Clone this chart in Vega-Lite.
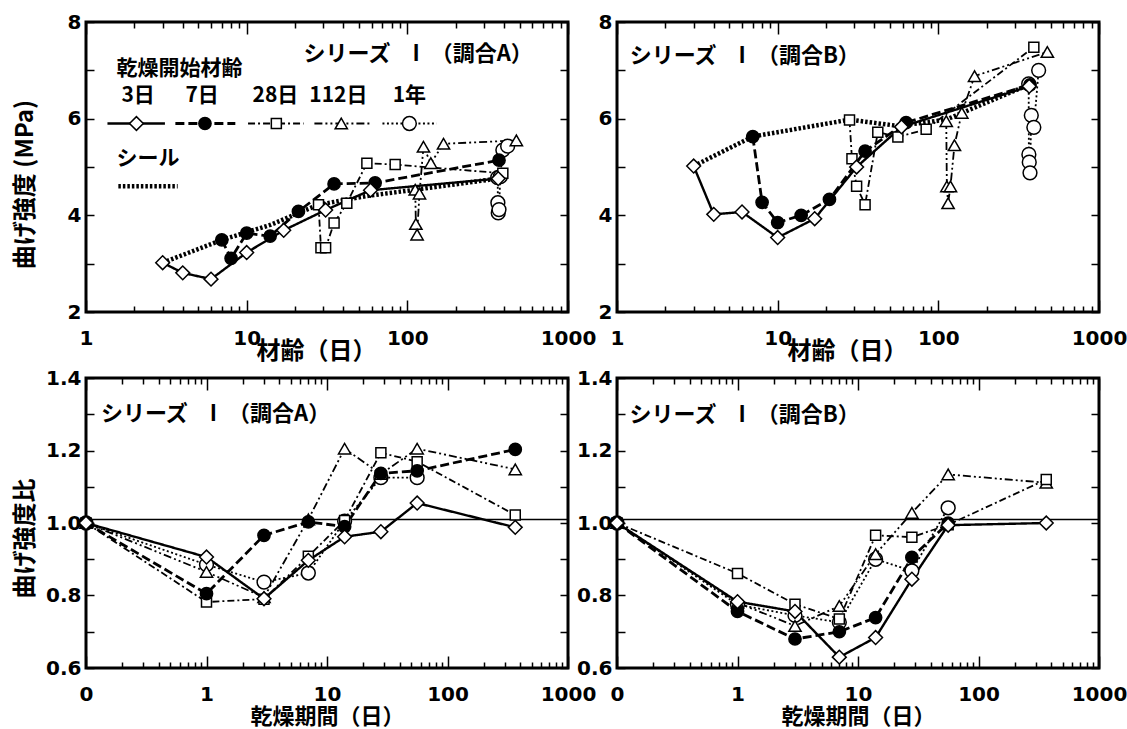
{
"$schema": "https://vega.github.io/schema/vega-lite/v6.json",
"background": "white",
"padding": {"left": 11, "top": 10, "right": 2, "bottom": 2},
"columns": 2,
"spacing": {"row": 66, "column": 49},
"bounds": "flush",
"config": {
  "view": {"stroke": "black", "strokeWidth": 3},
  "axis": {"grid": false, "domain": false, "ticks": true, "tickColor": "black", "tickOpacity": 1, "tickWidth": 1.5, "labelFont": "DejaVu Sans", "labelFontWeight": "bold", "labelFontSize": 20, "labelColor": "black", "titleFont": "Noto Sans CJK JP", "titleFontWeight": "bold", "titleFontSize": 22, "titleColor": "black", "labelFlush": false, "labelOverlap": false, "labelBound": false},
  "text": {"font": "Noto Sans CJK JP", "fontWeight": "bold", "color": "black"}
},
"datasets": {
  "tlDry": [
    {"series":"1年","age":365,"strength":4.78},{"series":"1年","age":366,"strength":4.26},{"series":"1年","age":368,"strength":4.05},{"series":"1年","age":372,"strength":4.12},{"series":"1年","age":379,"strength":4.8},{"series":"1年","age":393,"strength":5.35},{"series":"1年","age":421,"strength":5.43},
    {"series":"112日","age":112,"strength":4.53},{"series":"112日","age":113,"strength":3.82},{"series":"112日","age":115,"strength":3.6},{"series":"112日","age":119,"strength":4.45},{"series":"112日","age":126,"strength":5.42},{"series":"112日","age":140,"strength":5.08},{"series":"112日","age":168,"strength":5.48},{"series":"112日","age":477,"strength":5.55},
    {"series":"28日","age":28,"strength":4.22},{"series":"28日","age":29,"strength":3.33},{"series":"28日","age":31,"strength":3.33},{"series":"28日","age":35,"strength":3.84},{"series":"28日","age":42,"strength":4.25},{"series":"28日","age":56,"strength":5.08},{"series":"28日","age":84,"strength":5.05},{"series":"28日","age":393,"strength":4.87},
    {"series":"7日","age":7,"strength":3.49},{"series":"7日","age":8,"strength":3.11},{"series":"7日","age":10,"strength":3.63},{"series":"7日","age":14,"strength":3.57},{"series":"7日","age":21,"strength":4.08},{"series":"7日","age":35,"strength":4.65},{"series":"7日","age":63,"strength":4.67},{"series":"7日","age":372,"strength":5.14},
    {"series":"3日","age":3,"strength":3.02},{"series":"3日","age":4,"strength":2.81},{"series":"3日","age":6,"strength":2.68},{"series":"3日","age":10,"strength":3.23},{"series":"3日","age":17,"strength":3.69},{"series":"3日","age":31,"strength":4.11},{"series":"3日","age":59,"strength":4.52},{"series":"3日","age":368,"strength":4.76}
  ],
  "tlSeal": [{"age":3,"strength":3.02},{"age":7,"strength":3.49},{"age":14,"strength":3.8},{"age":28,"strength":4.22},{"age":56,"strength":4.4},{"age":112,"strength":4.53},{"age":365,"strength":4.76}],
  "tlTitle": [{"text":"シリーズ　I　（調合A）","age":22.6,"strength":7.33}],
  "tlNote": [{"text":"乾燥開始材齢","age":1.55,"strength":7.02},{"text":"シール","age":1.55,"strength":5.16}],
  "tlLegLabel": [{"text":"3日","age":2.11,"strength":6.47},{"text":"7日","age":5.28,"strength":6.47},{"text":"28日","age":15.1,"strength":6.47},{"text":"112日","age":37.2,"strength":6.47},{"text":"1年","age":103,"strength":6.47}],
  "tlLegLine": [
    {"series":"3日","age":1.36,"strength":5.9},{"series":"3日","age":3.1,"strength":5.9},
    {"series":"7日","age":3.6,"strength":5.9},{"series":"7日","age":8.5,"strength":5.9},
    {"series":"28日","age":10.2,"strength":5.9},{"series":"28日","age":22.6,"strength":5.9},
    {"series":"112日","age":26.4,"strength":5.9},{"series":"112日","age":60,"strength":5.9},
    {"series":"1年","age":70,"strength":5.9},{"series":"1年","age":152,"strength":5.9}
  ],
  "tlLegMark": [{"series":"3日","age":2.06,"strength":5.9},{"series":"7日","age":5.5,"strength":5.9},{"series":"28日","age":15.3,"strength":5.9},{"series":"112日","age":38.8,"strength":5.9},{"series":"1年","age":103,"strength":5.9}],
  "tlLegSeal": [{"age":1.59,"strength":4.6},{"age":3.72,"strength":4.6}],
  "trDry": [
    {"series":"1年","age":365,"strength":6.72},{"series":"1年","age":366,"strength":5.26},{"series":"1年","age":368,"strength":5.1},{"series":"1年","age":372,"strength":4.88},{"series":"1年","age":379,"strength":6.07},{"series":"1年","age":393,"strength":5.82},{"series":"1年","age":421,"strength":7.0},
    {"series":"112日","age":112,"strength":5.95},{"series":"112日","age":113,"strength":4.6},{"series":"112日","age":115,"strength":4.25},{"series":"112日","age":119,"strength":4.6},{"series":"112日","age":126,"strength":5.45},{"series":"112日","age":140,"strength":6.12},{"series":"112日","age":168,"strength":6.88},{"series":"112日","age":477,"strength":7.38},
    {"series":"28日","age":28,"strength":5.97},{"series":"28日","age":29,"strength":5.17},{"series":"28日","age":31,"strength":4.6},{"series":"28日","age":35,"strength":4.22},{"series":"28日","age":42,"strength":5.72},{"series":"28日","age":56,"strength":5.62},{"series":"28日","age":84,"strength":5.78},{"series":"28日","age":393,"strength":7.48},
    {"series":"7日","age":7,"strength":5.63},{"series":"7日","age":8,"strength":4.27},{"series":"7日","age":10,"strength":3.85},{"series":"7日","age":14,"strength":4.0},{"series":"7日","age":21,"strength":4.33},{"series":"7日","age":35,"strength":5.33},{"series":"7日","age":63,"strength":5.92},{"series":"7日","age":372,"strength":6.7},
    {"series":"3日","age":3,"strength":5.02},{"series":"3日","age":4,"strength":4.02},{"series":"3日","age":6,"strength":4.07},{"series":"3日","age":10,"strength":3.54},{"series":"3日","age":17,"strength":3.93},{"series":"3日","age":31,"strength":5.0},{"series":"3日","age":59,"strength":5.83},{"series":"3日","age":368,"strength":6.67}
  ],
  "trSeal": [{"age":3,"strength":5.02},{"age":7,"strength":5.63},{"age":28,"strength":5.98},{"age":56,"strength":5.85},{"age":112,"strength":5.98},{"age":365,"strength":6.7}],
  "trTitle": [{"text":"シリーズ　I　（調合B）","age":1.2,"strength":7.3}],
  "blDry": [
    {"series":"1年","period":0.1,"ratio":1.0},{"series":"1年","period":1,"ratio":0.885},{"series":"1年","period":3,"ratio":0.837},{"series":"1年","period":7,"ratio":0.862},{"series":"1年","period":14,"ratio":1.005},{"series":"1年","period":28,"ratio":1.125},{"series":"1年","period":56,"ratio":1.125},
    {"series":"112日","period":0.1,"ratio":1.0},{"series":"112日","period":1,"ratio":0.865},{"series":"112日","period":3,"ratio":0.795},{"series":"112日","period":7,"ratio":1.01},{"series":"112日","period":14,"ratio":1.205},{"series":"112日","period":28,"ratio":1.135},{"series":"112日","period":56,"ratio":1.205},{"series":"112日","period":365,"ratio":1.148},
    {"series":"28日","period":0.1,"ratio":1.0},{"series":"28日","period":1,"ratio":0.782},{"series":"28日","period":3,"ratio":0.79},{"series":"28日","period":7,"ratio":0.908},{"series":"28日","period":14,"ratio":1.007},{"series":"28日","period":28,"ratio":1.194},{"series":"28日","period":56,"ratio":1.169},{"series":"28日","period":365,"ratio":1.022},
    {"series":"7日","period":0.1,"ratio":1.0},{"series":"7日","period":1,"ratio":0.805},{"series":"7日","period":3,"ratio":0.966},{"series":"7日","period":7,"ratio":1.003},{"series":"7日","period":14,"ratio":0.99},{"series":"7日","period":28,"ratio":1.137},{"series":"7日","period":56,"ratio":1.144},{"series":"7日","period":365,"ratio":1.203},
    {"series":"3日","period":0.1,"ratio":1.0},{"series":"3日","period":1,"ratio":0.906},{"series":"3日","period":3,"ratio":0.791},{"series":"3日","period":7,"ratio":0.897},{"series":"3日","period":14,"ratio":0.962},{"series":"3日","period":28,"ratio":0.976},{"series":"3日","period":56,"ratio":1.055},{"series":"3日","period":365,"ratio":0.988}
  ],
  "brDry": [
    {"series":"1年","period":0.1,"ratio":1.0},{"series":"1年","period":1,"ratio":0.775},{"series":"1年","period":3,"ratio":0.745},{"series":"1年","period":7,"ratio":0.726},{"series":"1年","period":14,"ratio":0.9},{"series":"1年","period":28,"ratio":0.868},{"series":"1年","period":56,"ratio":1.042},
    {"series":"112日","period":0.1,"ratio":1.0},{"series":"112日","period":1,"ratio":0.78},{"series":"112日","period":3,"ratio":0.716},{"series":"112日","period":7,"ratio":0.771},{"series":"112日","period":14,"ratio":0.914},{"series":"112日","period":28,"ratio":1.028},{"series":"112日","period":56,"ratio":1.134},{"series":"112日","period":365,"ratio":1.111},
    {"series":"28日","period":0.1,"ratio":1.0},{"series":"28日","period":1,"ratio":0.861},{"series":"28日","period":3,"ratio":0.776},{"series":"28日","period":7,"ratio":0.735},{"series":"28日","period":14,"ratio":0.966},{"series":"28日","period":28,"ratio":0.961},{"series":"28日","period":56,"ratio":0.995},{"series":"28日","period":365,"ratio":1.12},
    {"series":"7日","period":0.1,"ratio":1.0},{"series":"7日","period":1,"ratio":0.756},{"series":"7日","period":3,"ratio":0.68},{"series":"7日","period":7,"ratio":0.7},{"series":"7日","period":14,"ratio":0.739},{"series":"7日","period":28,"ratio":0.905},{"series":"7日","period":56,"ratio":1.0},
    {"series":"3日","period":0.1,"ratio":1.0},{"series":"3日","period":1,"ratio":0.783},{"series":"3日","period":3,"ratio":0.756},{"series":"3日","period":7,"ratio":0.63},{"series":"3日","period":14,"ratio":0.684},{"series":"3日","period":28,"ratio":0.845},{"series":"3日","period":56,"ratio":0.994},{"series":"3日","period":365,"ratio":1.0}
  ],
  "ref": [{"ratio":1.01}],
  "blTitle": [{"text":"シリーズ　I　（調合A）","period":0.133,"ratio":1.302}],
  "brTitle": [{"text":"シリーズ　I　（調合B）","period":0.127,"ratio":1.299}]
},
"concat": [
{
  "width": 482, "height": 290,
  "resolve": {"axis": {"x": "independent", "y": "independent"}},
  "layer": [
    {"data": {"name": "tlSeal"}, "mark": {"type": "line", "strokeDash": [2.5, 2], "strokeWidth": 4.5, "color": "black"},
     "encoding": {
       "x": {"field": "age", "type": "quantitative", "scale": {"type": "log", "domain": [1, 1000], "nice": false}, "axis": {"orient": "bottom", "offset": -6, "tickSize": 6, "values": [2,3,4,5,6,7,8,9,20,30,40,50,60,70,80,90,200,300,400,500,600,700,800,900], "labels": false, "title": null}},
       "y": {"field": "strength", "type": "quantitative", "scale": {"domain": [2, 8], "nice": false, "zero": false}, "axis": null}}},
    {"data": {"name": "tlDry"}, "mark": {"type": "line", "color": "black"},
     "encoding": {
       "x": {"field": "age", "type": "quantitative", "scale": {"type": "log", "domain": [1, 1000], "nice": false}, "axis": {"orient": "bottom", "offset": -12, "tickSize": 12, "values": [1, 10, 100, 1000], "labelPadding": 16, "labelExpr": "format(datum.value, 'd')", "title": "材齢（日）", "titleFontSize": 24, "titleX": 230, "titleY": 51, "titleBaseline": "middle"}},
       "y": {"field": "strength", "type": "quantitative", "scale": {"domain": [2, 8], "nice": false, "zero": false}, "axis": {"orient": "left", "offset": -8, "tickSize": 8, "values": [2,3,4,5,6,7,8], "labelPadding": 5, "labelExpr": "datum.value % 2 == 0 ? format(datum.value, 'd') : ''", "title": "曲げ強度 (MPa)", "titleFontSize": 24, "titleX": -69, "titleY": 162, "titleBaseline": "middle"}},
       "strokeDash": {"field": "series", "type": "nominal", "scale": {"domain": ["3日","7日","28日","112日","1年"], "range": [[1,0],[9,4],[7,3,2,3],[8,3,2,3,2,3],[2,2.5]]}, "legend": null},
       "strokeWidth": {"condition": [{"test": "datum.series == '7日'", "value": 2.8}, {"test": "datum.series == '3日'", "value": 2.4}], "value": 1.8}}},
    {"data": {"name": "tlDry"}, "mark": {"type": "point", "stroke": "black", "strokeWidth": 1.5, "opacity": 1},
     "encoding": {
       "x": {"field": "age", "type": "quantitative", "scale": {"type": "log", "domain": [1, 1000], "nice": false}, "axis": {"orient": "top", "offset": -12, "tickSize": 12, "values": [1, 10, 100, 1000], "labels": false, "title": null}},
       "y": {"field": "strength", "type": "quantitative", "scale": {"domain": [2, 8], "nice": false, "zero": false}, "axis": {"orient": "right", "offset": -8, "tickSize": 8, "values": [2,3,4,5,6,7,8], "labels": false, "title": null}},
       "shape": {"field": "series", "type": "nominal", "scale": {"domain": ["3日","7日","28日","112日","1年"], "range": ["diamond","circle","square","triangle-up","circle"]}, "legend": null},
       "fill": {"condition": {"test": "datum.series == '7日'", "value": "black"}, "value": "white"},
       "size": {"condition": [{"test": "datum.series == '3日' || datum.series == '1年'", "value": 190}, {"test": "datum.series == '28日'", "value": 100}], "value": 150}}},
    {"data": {"name": "tlTitle"}, "mark": {"type": "text", "align": "left", "baseline": "middle", "fontSize": 22},
     "encoding": {
       "x": {"field": "age", "type": "quantitative", "scale": {"type": "log", "domain": [1, 1000], "nice": false}, "axis": {"orient": "top", "offset": -6, "tickSize": 6, "values": [2,3,4,5,6,7,8,9,20,30,40,50,60,70,80,90,200,300,400,500,600,700,800,900], "labels": false, "title": null}},
       "y": {"field": "strength", "type": "quantitative", "scale": {"domain": [2, 8], "nice": false, "zero": false}, "axis": null},
       "text": {"field": "text"}}},
    {"data": {"name": "tlNote"}, "mark": {"type": "text", "align": "left", "baseline": "middle", "fontSize": 21},
     "encoding": {
       "x": {"field": "age", "type": "quantitative", "scale": {"type": "log", "domain": [1, 1000], "nice": false}, "axis": null},
       "y": {"field": "strength", "type": "quantitative", "scale": {"domain": [2, 8], "nice": false, "zero": false}, "axis": null},
       "text": {"field": "text"}}},
    {"data": {"name": "tlLegLabel"}, "mark": {"type": "text", "align": "center", "baseline": "middle", "fontSize": 21},
     "encoding": {
       "x": {"field": "age", "type": "quantitative", "scale": {"type": "log", "domain": [1, 1000], "nice": false}, "axis": null},
       "y": {"field": "strength", "type": "quantitative", "scale": {"domain": [2, 8], "nice": false, "zero": false}, "axis": null},
       "text": {"field": "text"}}},
    {"data": {"name": "tlLegLine"}, "mark": {"type": "line", "color": "black"},
     "encoding": {
       "x": {"field": "age", "type": "quantitative", "scale": {"type": "log", "domain": [1, 1000], "nice": false}, "axis": null},
       "y": {"field": "strength", "type": "quantitative", "scale": {"domain": [2, 8], "nice": false, "zero": false}, "axis": null},
       "strokeDash": {"field": "series", "type": "nominal", "scale": {"domain": ["3日","7日","28日","112日","1年"], "range": [[1,0],[9,4],[7,3,2,3],[8,3,2,3,2,3],[2,2.5]]}, "legend": null},
       "strokeWidth": {"condition": [{"test": "datum.series == '7日'", "value": 2.8}, {"test": "datum.series == '3日'", "value": 2.4}], "value": 1.8}}},
    {"data": {"name": "tlLegSeal"}, "mark": {"type": "line", "strokeDash": [2.5, 2], "strokeWidth": 4.5, "color": "black"},
     "encoding": {
       "x": {"field": "age", "type": "quantitative", "scale": {"type": "log", "domain": [1, 1000], "nice": false}, "axis": null},
       "y": {"field": "strength", "type": "quantitative", "scale": {"domain": [2, 8], "nice": false, "zero": false}, "axis": null}}},
    {"data": {"name": "tlLegMark"}, "mark": {"type": "point", "stroke": "black", "strokeWidth": 1.5, "opacity": 1},
     "encoding": {
       "x": {"field": "age", "type": "quantitative", "scale": {"type": "log", "domain": [1, 1000], "nice": false}, "axis": null},
       "y": {"field": "strength", "type": "quantitative", "scale": {"domain": [2, 8], "nice": false, "zero": false}, "axis": null},
       "shape": {"field": "series", "type": "nominal", "scale": {"domain": ["3日","7日","28日","112日","1年"], "range": ["diamond","circle","square","triangle-up","circle"]}, "legend": null},
       "fill": {"condition": {"test": "datum.series == '7日'", "value": "black"}, "value": "white"},
       "size": {"condition": [{"test": "datum.series == '3日' || datum.series == '1年'", "value": 190}, {"test": "datum.series == '28日'", "value": 100}], "value": 150}}}
  ]
},
{
  "width": 482, "height": 290,
  "resolve": {"axis": {"x": "independent", "y": "independent"}},
  "layer": [
    {"data": {"name": "trSeal"}, "mark": {"type": "line", "strokeDash": [2.5, 2], "strokeWidth": 4.5, "color": "black"},
     "encoding": {
       "x": {"field": "age", "type": "quantitative", "scale": {"type": "log", "domain": [1, 1000], "nice": false}, "axis": {"orient": "bottom", "offset": -6, "tickSize": 6, "values": [2,3,4,5,6,7,8,9,20,30,40,50,60,70,80,90,200,300,400,500,600,700,800,900], "labels": false, "title": null}},
       "y": {"field": "strength", "type": "quantitative", "scale": {"domain": [2, 8], "nice": false, "zero": false}, "axis": null}}},
    {"data": {"name": "trDry"}, "mark": {"type": "line", "color": "black"},
     "encoding": {
       "x": {"field": "age", "type": "quantitative", "scale": {"type": "log", "domain": [1, 1000], "nice": false}, "axis": {"orient": "bottom", "offset": -12, "tickSize": 12, "values": [1, 10, 100, 1000], "labelPadding": 16, "labelExpr": "format(datum.value, 'd')", "title": "材齢（日）", "titleFontSize": 24, "titleX": 230, "titleY": 51, "titleBaseline": "middle"}},
       "y": {"field": "strength", "type": "quantitative", "scale": {"domain": [2, 8], "nice": false, "zero": false}, "axis": {"orient": "left", "offset": -8, "tickSize": 8, "values": [2,3,4,5,6,7,8], "labelPadding": 5, "labelExpr": "datum.value % 2 == 0 ? format(datum.value, 'd') : ''", "title": null}},
       "strokeDash": {"field": "series", "type": "nominal", "scale": {"domain": ["3日","7日","28日","112日","1年"], "range": [[1,0],[9,4],[7,3,2,3],[8,3,2,3,2,3],[2,2.5]]}, "legend": null},
       "strokeWidth": {"condition": [{"test": "datum.series == '7日'", "value": 2.8}, {"test": "datum.series == '3日'", "value": 2.4}], "value": 1.8}}},
    {"data": {"name": "trDry"}, "mark": {"type": "point", "stroke": "black", "strokeWidth": 1.5, "opacity": 1},
     "encoding": {
       "x": {"field": "age", "type": "quantitative", "scale": {"type": "log", "domain": [1, 1000], "nice": false}, "axis": {"orient": "top", "offset": -12, "tickSize": 12, "values": [1, 10, 100, 1000], "labels": false, "title": null}},
       "y": {"field": "strength", "type": "quantitative", "scale": {"domain": [2, 8], "nice": false, "zero": false}, "axis": {"orient": "right", "offset": -8, "tickSize": 8, "values": [2,3,4,5,6,7,8], "labels": false, "title": null}},
       "shape": {"field": "series", "type": "nominal", "scale": {"domain": ["3日","7日","28日","112日","1年"], "range": ["diamond","circle","square","triangle-up","circle"]}, "legend": null},
       "fill": {"condition": {"test": "datum.series == '7日'", "value": "black"}, "value": "white"},
       "size": {"condition": [{"test": "datum.series == '3日' || datum.series == '1年'", "value": 190}, {"test": "datum.series == '28日'", "value": 100}], "value": 150}}},
    {"data": {"name": "trTitle"}, "mark": {"type": "text", "align": "left", "baseline": "middle", "fontSize": 22},
     "encoding": {
       "x": {"field": "age", "type": "quantitative", "scale": {"type": "log", "domain": [1, 1000], "nice": false}, "axis": {"orient": "top", "offset": -6, "tickSize": 6, "values": [2,3,4,5,6,7,8,9,20,30,40,50,60,70,80,90,200,300,400,500,600,700,800,900], "labels": false, "title": null}},
       "y": {"field": "strength", "type": "quantitative", "scale": {"domain": [2, 8], "nice": false, "zero": false}, "axis": null},
       "text": {"field": "text"}}}
  ]
},
{
  "width": 482, "height": 290,
  "resolve": {"axis": {"x": "independent", "y": "independent"}},
  "layer": [
    {"data": {"name": "ref"}, "mark": {"type": "rule", "color": "black", "strokeWidth": 1.5},
     "encoding": {
       "x": {"datum": 0.1, "type": "quantitative", "scale": {"type": "log", "domain": [0.1, 1000], "nice": false}, "axis": {"orient": "top", "offset": -6, "tickSize": 6, "values": [0.2,0.3,0.4,0.5,0.6,0.7,0.8,0.9,2,3,4,5,6,7,8,9,20,30,40,50,60,70,80,90,200,300,400,500,600,700,800,900], "labels": false, "title": null}},
       "x2": {"datum": 1000},
       "y": {"field": "ratio", "type": "quantitative", "scale": {"domain": [0.6, 1.4], "nice": false, "zero": false}, "axis": null}}},
    {"data": {"name": "blDry"}, "mark": {"type": "line", "color": "black"},
     "encoding": {
       "x": {"field": "period", "type": "quantitative", "scale": {"type": "log", "domain": [0.1, 1000], "nice": false}, "axis": {"orient": "bottom", "offset": -12, "tickSize": 12, "values": [0.1, 1, 10, 100, 1000], "labelPadding": 16, "labelExpr": "datum.value < 0.5 ? '0' : format(datum.value, 'd')", "title": "乾燥期間（日）", "titleY": 60, "titleBaseline": "middle"}},
       "y": {"field": "ratio", "type": "quantitative", "scale": {"domain": [0.6, 1.4], "nice": false, "zero": false}, "axis": {"orient": "left", "offset": -8, "tickSize": 8, "values": [0.6,0.7,0.8,0.9,1.0,1.1,1.2,1.3,1.4], "labelPadding": 5, "labelExpr": "round(datum.value * 10) % 2 == 0 ? format(datum.value, '.1f') : ''", "title": "曲げ強度比", "titleFontSize": 24, "titleX": -69, "titleY": 160, "titleBaseline": "middle"}},
       "strokeDash": {"field": "series", "type": "nominal", "scale": {"domain": ["3日","7日","28日","112日","1年"], "range": [[1,0],[9,4],[7,3,2,3],[8,3,2,3,2,3],[2,2.5]]}, "legend": null},
       "strokeWidth": {"condition": [{"test": "datum.series == '7日'", "value": 2.8}, {"test": "datum.series == '3日'", "value": 2.4}], "value": 1.8}}},
    {"data": {"name": "blDry"}, "mark": {"type": "point", "stroke": "black", "strokeWidth": 1.5, "opacity": 1},
     "encoding": {
       "x": {"field": "period", "type": "quantitative", "scale": {"type": "log", "domain": [0.1, 1000], "nice": false}, "axis": {"orient": "top", "offset": -12, "tickSize": 12, "values": [0.1, 1, 10, 100, 1000], "labels": false, "title": null}},
       "y": {"field": "ratio", "type": "quantitative", "scale": {"domain": [0.6, 1.4], "nice": false, "zero": false}, "axis": {"orient": "right", "offset": -8, "tickSize": 8, "values": [0.6,0.7,0.8,0.9,1.0,1.1,1.2,1.3,1.4], "labels": false, "title": null}},
       "shape": {"field": "series", "type": "nominal", "scale": {"domain": ["3日","7日","28日","112日","1年"], "range": ["diamond","circle","square","triangle-up","circle"]}, "legend": null},
       "fill": {"condition": {"test": "datum.series == '7日'", "value": "black"}, "value": "white"},
       "size": {"condition": [{"test": "datum.series == '3日' || datum.series == '1年'", "value": 190}, {"test": "datum.series == '28日'", "value": 100}], "value": 150}}},
    {"data": {"name": "blTitle"}, "mark": {"type": "text", "align": "left", "baseline": "middle", "fontSize": 22},
     "encoding": {
       "x": {"field": "period", "type": "quantitative", "scale": {"type": "log", "domain": [0.1, 1000], "nice": false}, "axis": {"orient": "bottom", "offset": -6, "tickSize": 6, "values": [0.2,0.3,0.4,0.5,0.6,0.7,0.8,0.9,2,3,4,5,6,7,8,9,20,30,40,50,60,70,80,90,200,300,400,500,600,700,800,900], "labels": false, "title": null}},
       "y": {"field": "ratio", "type": "quantitative", "scale": {"domain": [0.6, 1.4], "nice": false, "zero": false}, "axis": null},
       "text": {"field": "text"}}}
  ]
},
{
  "width": 482, "height": 290,
  "resolve": {"axis": {"x": "independent", "y": "independent"}},
  "layer": [
    {"data": {"name": "ref"}, "mark": {"type": "rule", "color": "black", "strokeWidth": 1.5},
     "encoding": {
       "x": {"datum": 0.1, "type": "quantitative", "scale": {"type": "log", "domain": [0.1, 1000], "nice": false}, "axis": {"orient": "top", "offset": -6, "tickSize": 6, "values": [0.2,0.3,0.4,0.5,0.6,0.7,0.8,0.9,2,3,4,5,6,7,8,9,20,30,40,50,60,70,80,90,200,300,400,500,600,700,800,900], "labels": false, "title": null}},
       "x2": {"datum": 1000},
       "y": {"field": "ratio", "type": "quantitative", "scale": {"domain": [0.6, 1.4], "nice": false, "zero": false}, "axis": null}}},
    {"data": {"name": "brDry"}, "mark": {"type": "line", "color": "black"},
     "encoding": {
       "x": {"field": "period", "type": "quantitative", "scale": {"type": "log", "domain": [0.1, 1000], "nice": false}, "axis": {"orient": "bottom", "offset": -12, "tickSize": 12, "values": [0.1, 1, 10, 100, 1000], "labelPadding": 16, "labelExpr": "datum.value < 0.5 ? '0' : format(datum.value, 'd')", "title": "乾燥期間（日）", "titleY": 60, "titleBaseline": "middle"}},
       "y": {"field": "ratio", "type": "quantitative", "scale": {"domain": [0.6, 1.4], "nice": false, "zero": false}, "axis": {"orient": "left", "offset": -8, "tickSize": 8, "values": [0.6,0.7,0.8,0.9,1.0,1.1,1.2,1.3,1.4], "labelPadding": 5, "labelExpr": "round(datum.value * 10) % 2 == 0 ? format(datum.value, '.1f') : ''", "title": null}},
       "strokeDash": {"field": "series", "type": "nominal", "scale": {"domain": ["3日","7日","28日","112日","1年"], "range": [[1,0],[9,4],[7,3,2,3],[8,3,2,3,2,3],[2,2.5]]}, "legend": null},
       "strokeWidth": {"condition": [{"test": "datum.series == '7日'", "value": 2.8}, {"test": "datum.series == '3日'", "value": 2.4}], "value": 1.8}}},
    {"data": {"name": "brDry"}, "mark": {"type": "point", "stroke": "black", "strokeWidth": 1.5, "opacity": 1},
     "encoding": {
       "x": {"field": "period", "type": "quantitative", "scale": {"type": "log", "domain": [0.1, 1000], "nice": false}, "axis": {"orient": "top", "offset": -12, "tickSize": 12, "values": [0.1, 1, 10, 100, 1000], "labels": false, "title": null}},
       "y": {"field": "ratio", "type": "quantitative", "scale": {"domain": [0.6, 1.4], "nice": false, "zero": false}, "axis": {"orient": "right", "offset": -8, "tickSize": 8, "values": [0.6,0.7,0.8,0.9,1.0,1.1,1.2,1.3,1.4], "labels": false, "title": null}},
       "shape": {"field": "series", "type": "nominal", "scale": {"domain": ["3日","7日","28日","112日","1年"], "range": ["diamond","circle","square","triangle-up","circle"]}, "legend": null},
       "fill": {"condition": {"test": "datum.series == '7日'", "value": "black"}, "value": "white"},
       "size": {"condition": [{"test": "datum.series == '3日' || datum.series == '1年'", "value": 190}, {"test": "datum.series == '28日'", "value": 100}], "value": 150}}},
    {"data": {"name": "brTitle"}, "mark": {"type": "text", "align": "left", "baseline": "middle", "fontSize": 22},
     "encoding": {
       "x": {"field": "period", "type": "quantitative", "scale": {"type": "log", "domain": [0.1, 1000], "nice": false}, "axis": {"orient": "bottom", "offset": -6, "tickSize": 6, "values": [0.2,0.3,0.4,0.5,0.6,0.7,0.8,0.9,2,3,4,5,6,7,8,9,20,30,40,50,60,70,80,90,200,300,400,500,600,700,800,900], "labels": false, "title": null}},
       "y": {"field": "ratio", "type": "quantitative", "scale": {"domain": [0.6, 1.4], "nice": false, "zero": false}, "axis": null},
       "text": {"field": "text"}}}
  ]
}
]
}
